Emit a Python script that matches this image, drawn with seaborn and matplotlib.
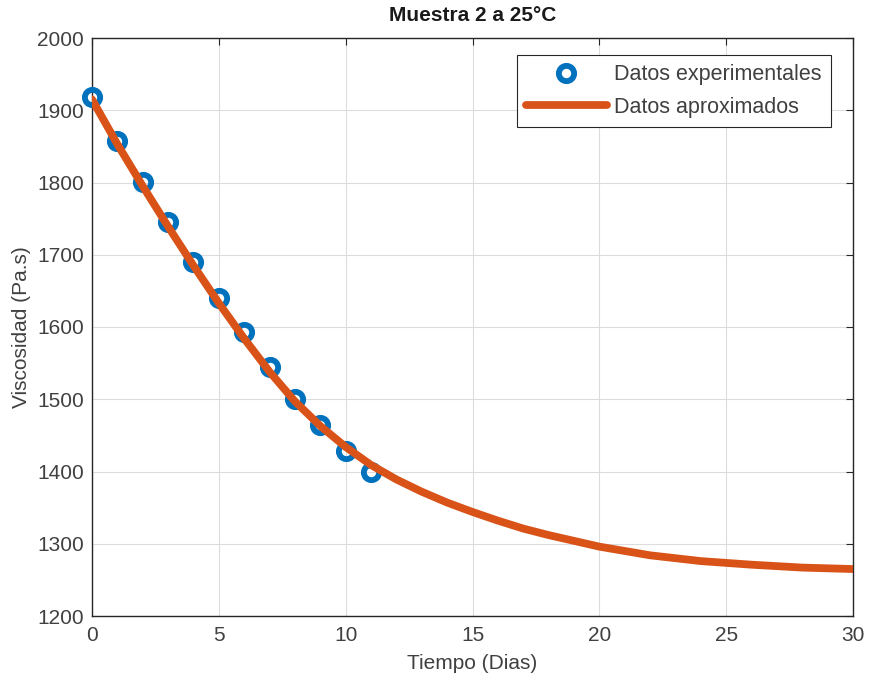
import matplotlib
matplotlib.use("Agg")
import matplotlib.pyplot as plt
import seaborn as sns
import pandas as pd

dias_exp = [0, 1, 2, 3, 4, 5, 6, 7, 8, 9, 10, 11]
visc_exp = [1918, 1858, 1801, 1745, 1690, 1640, 1593, 1545, 1501, 1465, 1428, 1400]

# Approximated curve
dias_fit = [0, 1, 2, 3, 4, 5, 6, 7, 8, 9, 10, 11, 12, 13, 14, 15, 16, 17, 18,
            20, 22, 24, 26, 28, 30]
visc_fit = [1915, 1853, 1795, 1739, 1685, 1633, 1584, 1538, 1497, 1463, 1434,
            1409, 1389, 1372, 1357, 1344, 1332, 1321, 1312,
            1296, 1284, 1276, 1271, 1267, 1265]

x_ticks = [0, 5, 10, 15, 20, 25, 30]
y_ticks = [1200, 1300, 1400, 1500, 1600, 1700, 1800, 1900, 2000]

titulo = "Muestra 2 a 25°C"
xlab = "Tiempo (Dias)"
ylab = "Viscosidad (Pa.s)"
lab_exp = "Datos experimentales"
lab_fit = "Datos aproximados"

BLUE = "#0072BD"
ORANGE = "#D95319"
TXT = "#404040"

sns.set_theme(style="whitegrid")
plt.rcParams["font.family"] = ["Liberation Sans", "DejaVu Sans"]

df_exp = pd.DataFrame({"x": dias_exp, "y": visc_exp})
df_fit = pd.DataFrame({"x": dias_fit, "y": visc_fit})

fig = plt.figure(figsize=(8.72, 6.8), dpi=100)
fig.patch.set_facecolor("white")
ax = fig.add_axes([92 / 872, 1 - 616 / 680, (853 - 92) / 872, (616 - 38) / 680])
ax.set_facecolor("white")

sns.lineplot(data=df_exp, x="x", y="y", ax=ax, linestyle="", marker="o",
             markersize=11, markerfacecolor="none", markeredgecolor=BLUE,
             markeredgewidth=4.2, color=BLUE, label=lab_exp, zorder=3,
             clip_on=False)
sns.lineplot(data=df_fit, x="x", y="y", ax=ax, color=ORANGE, linewidth=5.6,
             label=lab_fit, zorder=4)

ax.set_xlim(0, 30)
ax.set_ylim(1200, 2000)
ax.set_xticks(x_ticks)
ax.set_yticks(y_ticks)
ax.grid(True, color="#dcdcdc", linewidth=0.8)
for s in ax.spines.values():
    s.set_visible(True)
    s.set_color("#262626")
    s.set_linewidth(1.0)
ax.tick_params(axis="both", direction="in", length=5, width=0.8, colors="#262626",
               labelcolor=TXT, labelsize=15, top=True, right=True)
ax.tick_params(axis="x", pad=7)
ax.tick_params(axis="y", pad=6)

ax.set_title(titulo, fontsize=15, fontweight="bold", color="#1a1a1a", pad=12)
ax.set_xlabel(xlab, fontsize=15, color=TXT, labelpad=7)
ax.set_ylabel(ylab, fontsize=15, color=TXT, labelpad=4)

leg = ax.legend(loc="upper right", bbox_to_anchor=((831 - 92) / 761, (616 - 55) / 578),
                borderaxespad=0, fontsize=15.5, frameon=True, fancybox=False,
                handlelength=3.8, handletextpad=0.33, borderpad=0.42,
                labelspacing=0.55, labelcolor=TXT)
leg.get_frame().set_edgecolor("#262626")
leg.get_frame().set_linewidth(0.8)
leg.get_frame().set_facecolor("white")
leg.get_frame().set_alpha(1)

fig.savefig("out.png", dpi=100, facecolor="white")
